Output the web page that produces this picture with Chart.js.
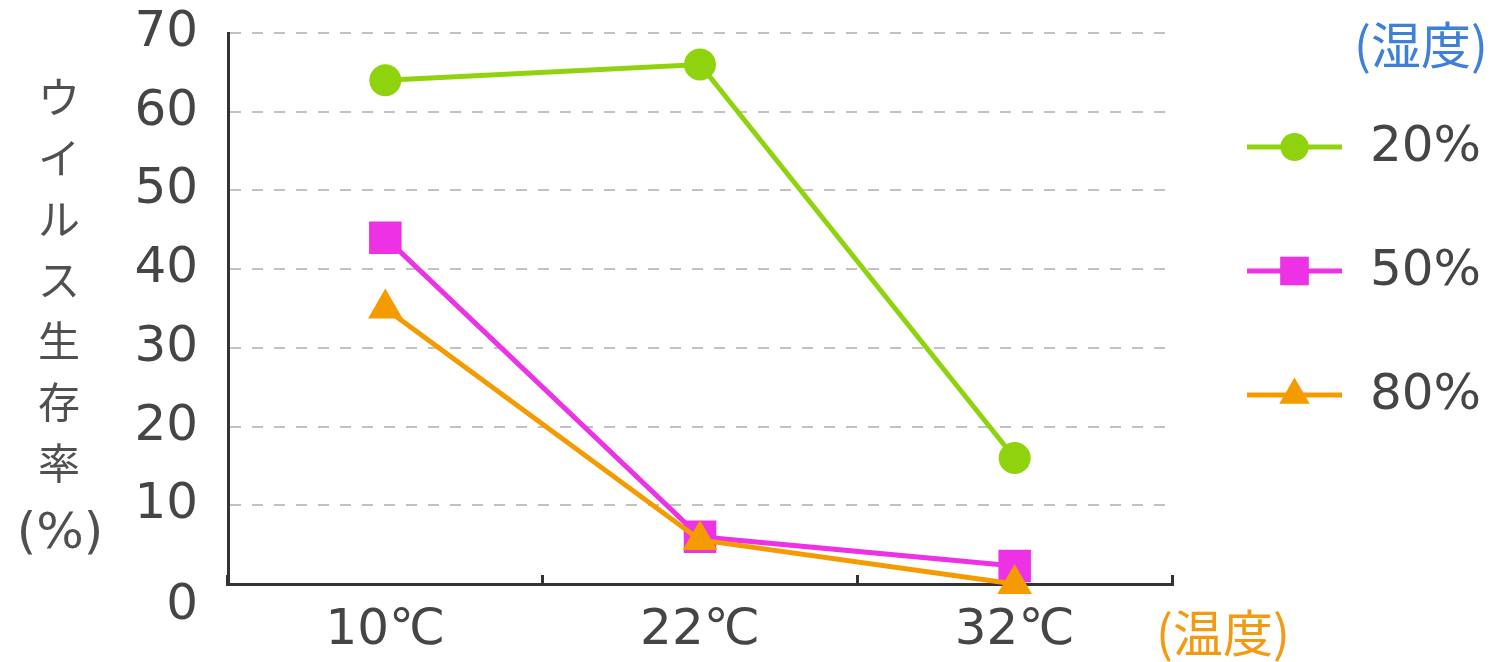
<!DOCTYPE html>
<html>
<head>
<meta charset="utf-8">
<script src="https://cdn.jsdelivr.net/npm/chart.js@4.4.1/dist/chart.umd.min.js"></script>
<style>
  html, body { margin: 0; padding: 0; background: #ffffff; }
  #wrap { width: 1501px; height: 662px; position: relative; }
</style>
</head>
<body>
<div id="wrap"><canvas id="chart"></canvas></div>
<script>
// Temperature categories along the x axis
const temperatureLabels = ['10℃', '22℃', '32℃'];
// Humidity series names
const humidityLabels = ['20%', '50%', '80%'];
// Virus survival rate (%) per temperature, one array per humidity
const survivalAt20 = [64, 66, 16];
const survivalAt50 = [44, 6, 2.3];
const survivalAt80 = [35, 5.6, 0];
// Y axis tick values
const yTickValues = [0, 10, 20, 30, 40, 50, 60, 70];
// Axis captions
const yTitleChars = ['ウ', 'イ', 'ル', 'ス', '生', '存', '率'];
const yTitleUnit = '(%)';
const xAxisTitle = '(温度)';
const legendTitle = '(湿度)';

const seriesColors = ['#8fd30e', '#ec32e4', '#f59b02'];
const seriesStyles = ['circle', 'rect', 'triangle'];
const seriesRadii = [16, 23, 20];
const seriesValues = [survivalAt20, survivalAt50, survivalAt80];

const textColor = '#454545';
const numFont = "'DejaVu Sans', 'Noto Sans CJK JP', sans-serif";
const cjkFont = "'Noto Sans CJK JP', 'DejaVu Sans', sans-serif";

const datasets = humidityLabels.map((name, i) => ({
  label: name,
  data: seriesValues[i],
  borderColor: seriesColors[i],
  backgroundColor: seriesColors[i],
  pointBackgroundColor: seriesColors[i],
  pointBorderColor: seriesColors[i],
  pointBorderWidth: 0,
  pointStyle: seriesStyles[i],
  pointRadius: seriesRadii[i],
  pointHoverRadius: seriesRadii[i],
  borderWidth: 5,
  tension: 0,
  clip: false,
  order: 3 - i
}));

// Free-standing captions: vertical y title, the lowered zero label,
// the x axis caption and the series key with its heading.
const captionsPlugin = {
  id: 'captions',
  afterDraw(chart) {
    const ctx = chart.ctx;
    const area = chart.chartArea;
    const yScale = chart.scales.y;
    ctx.save();
    ctx.fillStyle = '#505050';
    ctx.textAlign = 'center';
    ctx.textBaseline = 'middle';
    ctx.font = '42px ' + cjkFont;
    yTitleChars.forEach((ch, i) => {
      ctx.fillText(ch, 59, 97 + i * 61);
    });
    ctx.font = '50px ' + numFont;
    ctx.fillText(yTitleUnit, 60, 535);

    // zero label sits a little below its axis line
    ctx.fillStyle = textColor;
    ctx.textAlign = 'right';
    ctx.fillText('0', area.left - 30, yScale.getPixelForValue(0) + 22);

    // x axis caption to the right of the axis end
    ctx.textAlign = 'left';
    ctx.fillStyle = '#f39a12';
    ctx.font = '50px ' + cjkFont;
    ctx.fillText(xAxisTitle, area.right - 16, 633);

    // series key
    ctx.fillStyle = '#3d7fd9';
    ctx.textAlign = 'center';
    ctx.fillText(legendTitle, 1421, 45);

    const keyLeft = 1247, keyRight = 1342, keyMid = (keyLeft + keyRight) / 2;
    chart.data.datasets.forEach((ds, i) => {
      const y = 147 + i * 124;
      ctx.strokeStyle = ds.borderColor;
      ctx.lineWidth = 5;
      ctx.beginPath();
      ctx.moveTo(keyLeft, y);
      ctx.lineTo(keyRight, y);
      ctx.stroke();
      ctx.fillStyle = ds.backgroundColor;
      Chart.helpers.drawPoint(ctx, {
        pointStyle: ds.pointStyle,
        radius: ds.pointRadius * 0.88,
        rotation: 0,
        borderWidth: 0
      }, keyMid, y);
      ctx.fillStyle = textColor;
      ctx.textAlign = 'left';
      ctx.font = '50px ' + numFont;
      ctx.fillText(ds.label, 1370, y + 1);
    });
    ctx.restore();
  }
};

new Chart(document.getElementById('chart'), {
  type: 'line',
  data: { labels: temperatureLabels, datasets: datasets },
  options: {
    responsive: true,
    maintainAspectRatio: false,
    animation: false,
    events: [],
    layout: { autoPadding: false, padding: { top: 33, right: 329, left: 0, bottom: 0 } },
    plugins: {
      legend: { display: false },
      title: { display: false },
      tooltip: { enabled: false }
    },
    scales: {
      x: {
        offset: true,
        grid: {
          display: true,
          offset: true,
          drawOnChartArea: false,
          drawTicks: true,
          tickLength: -9,
          color: '#333333',
          lineWidth: 3
        },
        border: { display: true, color: '#333333', width: 3 },
        ticks: {
          color: textColor,
          font: { family: numFont, size: 50 },
          padding: 26,
          maxRotation: 0,
          autoSkip: false
        },
        afterFit(scale) {
          scale.height = 78;
          scale.paddingLeft = 0;
          scale.paddingRight = 0;
        }
      },
      y: {
        min: 0,
        max: 70,
        afterBuildTicks(scale) {
          scale.ticks = yTickValues.map(v => ({ value: v }));
        },
        grid: {
          drawTicks: false,
          lineWidth: 2,
          color: (c) => (c.tick && c.tick.value === 0) ? 'rgba(0,0,0,0)' : '#c2c2c2'
        },
        border: { display: true, color: '#333333', width: 3, dash: [11, 11] },
        ticks: {
          color: textColor,
          font: { family: numFont, size: 50 },
          padding: 30,
          callback: (v) => (v === 0 ? '' : String(v))
        },
        afterFit(scale) {
          scale.width = 228;
          scale.paddingTop = 0;
          scale.paddingBottom = 0;
        }
      }
    }
  },
  plugins: [captionsPlugin]
});
</script>
</body>
</html>
